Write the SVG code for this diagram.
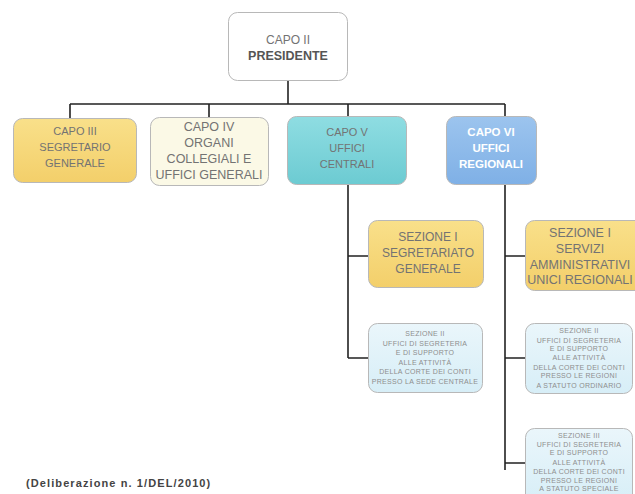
<svg xmlns="http://www.w3.org/2000/svg" width="635" height="494" viewBox="0 0 635 494">
<style>
.box{stroke:#b8b8b8;stroke-width:1}
.t{font-family:"Liberation Sans",Arial,sans-serif;font-size:11px;fill:#737373;text-anchor:middle}
.m{font-size:12.5px}
.s{font-family:"Liberation Sans",Arial,sans-serif;font-size:7px;fill:#8e8e8e;text-anchor:middle;letter-spacing:0.3px}
.w{fill:#ffffff;font-weight:bold;font-size:11.5px}
.c{stroke:#222;stroke-width:1.6;fill:none}
</style>
<defs>
<linearGradient id="yel" x1="0" y1="0" x2="0" y2="1"><stop offset="0" stop-color="#f9e08a"/><stop offset="1" stop-color="#f3cf6a"/></linearGradient>
<linearGradient id="cyan" x1="0" y1="0" x2="0" y2="1"><stop offset="0" stop-color="#8fdde2"/><stop offset="1" stop-color="#6ccbd2"/></linearGradient>
<linearGradient id="blue" x1="0" y1="0" x2="0" y2="1"><stop offset="0" stop-color="#9cc4ee"/><stop offset="1" stop-color="#7fb0e6"/></linearGradient>
<linearGradient id="lb" x1="0" y1="0" x2="0" y2="1"><stop offset="0" stop-color="#eaf6fb"/><stop offset="1" stop-color="#d7eef7"/></linearGradient>
</defs>
<rect width="635" height="494" fill="#ffffff"/>
<g id="connectors">
<path class="c" d="M288 80V104M70 104H505M70 104V118M209 104V117M348 104V116M505 104V116"/>
<path class="c" d="M348 185V358M348 256H368M348 358H368"/>
<path class="c" d="M505 185V470M505 256H525M505 358H525M505 463H525"/>
</g>
<g id="capo2">
<rect class="box" x="228.5" y="12.5" width="119" height="68" rx="9" fill="#ffffff"/>
<text class="t" x="288" y="44" style="font-size:12px">CAPO II</text>
<text class="t" x="288" y="60" style="font-weight:bold;fill:#555;font-size:12.5px">PRESIDENTE</text>
</g>
<g id="capo3">
<rect class="box" x="13.5" y="118.5" width="123" height="64" rx="9" fill="url(#yel)"/>
<text class="t" x="75" y="135">CAPO III</text>
<text class="t" x="75" y="151">SEGRETARIO</text>
<text class="t" x="75" y="167">GENERALE</text>
</g>
<g id="capo4">
<rect class="box" x="150.5" y="117.5" width="118" height="68" rx="9" fill="#fbf9e6"/>
<text class="t m" x="209" y="131">CAPO IV</text>
<text class="t m" x="209" y="147">ORGANI</text>
<text class="t m" x="209" y="163">COLLEGIALI E</text>
<text class="t m" x="209" y="179">UFFICI GENERALI</text>
</g>
<g id="capo5">
<rect class="box" x="287.5" y="116.5" width="119" height="68" rx="9" fill="url(#cyan)"/>
<text class="t" x="347" y="136">CAPO V</text>
<text class="t" x="347" y="152">UFFICI</text>
<text class="t" x="347" y="168">CENTRALI</text>
</g>
<g id="capo6">
<rect class="box" x="446.5" y="116.5" width="90" height="68" rx="9" fill="url(#blue)"/>
<text class="t w" x="491" y="136">CAPO VI</text>
<text class="t w" x="491" y="152">UFFICI</text>
<text class="t w" x="491" y="168">REGIONALI</text>
</g>
<g id="sez1c">
<rect class="box" x="368.5" y="220.5" width="115" height="67" rx="9" fill="url(#yel)"/>
<text class="t" x="428" y="241" style="font-size:12px">SEZIONE I</text>
<text class="t" x="428" y="257" style="font-size:12px">SEGRETARIATO</text>
<text class="t" x="428" y="273" style="font-size:12px">GENERALE</text>
</g>
<g id="sez1r">
<rect class="box" x="525.5" y="220.5" width="120" height="70" rx="9" fill="url(#yel)"/>
<text class="t m" x="580" y="237">SEZIONE I</text>
<text class="t m" x="580" y="253">SERVIZI</text>
<text class="t m" x="580" y="269">AMMINISTRATIVI</text>
<text class="t m" x="580" y="284">UNICI REGIONALI</text>
</g>
<g id="sez2c">
<rect class="box" x="368.5" y="323.5" width="114" height="69" rx="9" fill="url(#lb)"/>
<text class="s" x="425" y="336">SEZIONE II</text>
<text class="s" x="425" y="345.5">UFFICI DI SEGRETERIA</text>
<text class="s" x="425" y="355">E DI SUPPORTO</text>
<text class="s" x="425" y="364.5">ALLE ATTIVITÀ</text>
<text class="s" x="425" y="374">DELLA CORTE DEI CONTI</text>
<text class="s" x="425" y="384">PRESSO LA SEDE CENTRALE</text>
</g>
<g id="sez2r">
<rect class="box" x="525.5" y="323.5" width="107" height="70" rx="9" fill="url(#lb)"/>
<text class="s" x="579" y="333">SEZIONE II</text>
<text class="s" x="579" y="342.5">UFFICI DI SEGRETERIA</text>
<text class="s" x="579" y="351">E DI SUPPORTO</text>
<text class="s" x="579" y="360">ALLE ATTIVITÀ</text>
<text class="s" x="579" y="369.5">DELLA CORTE DEI CONTI</text>
<text class="s" x="579" y="378">PRESSO LE REGIONI</text>
<text class="s" x="579" y="387.5">A STATUTO ORDINARIO</text>
</g>
<g id="sez3r">
<rect class="box" x="525.5" y="428.5" width="107" height="75" rx="9" fill="url(#lb)"/>
<text class="s" x="579" y="438">SEZIONE III</text>
<text class="s" x="579" y="447">UFFICI DI SEGRETERIA</text>
<text class="s" x="579" y="455">E DI SUPPORTO</text>
<text class="s" x="579" y="464.5">ALLE ATTIVITÀ</text>
<text class="s" x="579" y="474">DELLA CORTE DEI CONTI</text>
<text class="s" x="579" y="482.5">PRESSO LE REGIONI</text>
<text class="s" x="579" y="491">A STATUTO SPECIALE</text>
</g>
<text x="26" y="487" style="font-family:'Liberation Sans',Arial,sans-serif;font-size:11px;letter-spacing:1.1px;font-weight:bold;fill:#444">(Deliberazione n. 1/DEL/2010)</text>
</svg>
